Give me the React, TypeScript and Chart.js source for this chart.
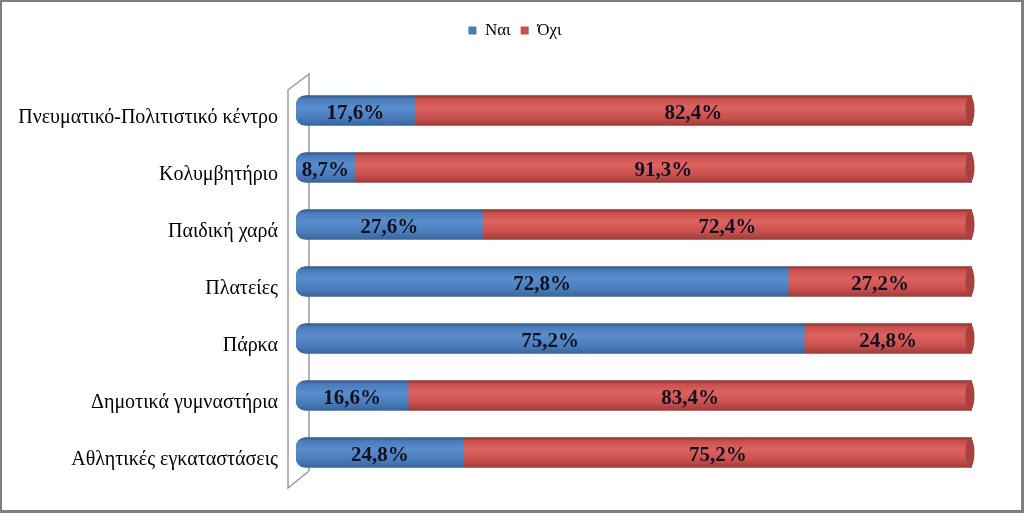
import React, { useEffect, useRef } from "react";
import { Chart, registerables } from "chart.js";

Chart.register(...registerables);

const categories = [
  "Πνευματικό-Πολιτιστικό κέντρο",
  "Κολυμβητήριο",
  "Παιδική χαρά",
  "Πλατείες",
  "Πάρκα",
  "Δημοτικά γυμναστήρια",
  "Αθλητικές εγκαταστάσεις",
];
const yesValues = [17.6, 8.7, 27.6, 72.8, 75.2, 16.6, 24.8];
const noValues = [82.4, 91.3, 72.4, 27.2, 24.8, 83.4, 75.2];
const seriesNames = ["Ναι", "Όχι"];

const BAR_H = 30;
const SERIF = "'Liberation Serif', 'Times New Roman', serif";

function cylinder(base: string[]) {
  return (ctx: any) => {
    const chart = ctx.chart;
    if (!chart.chartArea || ctx.dataIndex === undefined) return base[1];
    const y = chart.scales.y.getPixelForValue(ctx.dataIndex);
    const g = chart.ctx.createLinearGradient(0, y - BAR_H / 2, 0, y + BAR_H / 2);
    g.addColorStop(0, base[0]);
    g.addColorStop(0.12, base[1]);
    g.addColorStop(0.4, base[2]);
    g.addColorStop(0.75, base[1]);
    g.addColorStop(1, base[3]);
    return g;
  };
}

const blueStops = ["#34598a", "#4a7cbb", "#5a8dcc", "#3a659c"];
const redStops = ["#8e3432", "#c9504d", "#dc6360", "#9c3c3a"];

const wallPlugin = {
  id: "wall",
  beforeDatasetsDraw(chart: any) {
    const { ctx, chartArea } = chart;
    const l = chartArea.left;
    const t = chartArea.top;
    const b = chartArea.bottom;
    ctx.save();
    ctx.strokeStyle = "#9a9a9a";
    ctx.lineWidth = 1.5;
    ctx.beginPath();
    ctx.moveTo(l + 13, b - 10);
    ctx.lineTo(l - 8, b + 7);
    ctx.lineTo(l - 8, t + 8);
    ctx.lineTo(l + 13, t - 8);
    ctx.lineTo(l + 13, b - 10);
    ctx.stroke();
    ctx.restore();
  },
};

const capPlugin = {
  id: "caps",
  afterDatasetsDraw(chart: any) {
    const { ctx } = chart;
    const meta = chart.getDatasetMeta(1);
    ctx.save();
    meta.data.forEach((el: any) => {
      const h = el.height;
      ctx.beginPath();
      ctx.ellipse(el.x - 2, el.y, 4.5, h / 2, 0, 0, Math.PI * 2);
      ctx.fillStyle = "#a8413f";
      ctx.fill();
    });
    ctx.restore();
  },
};

const labelPlugin = {
  id: "valueLabels",
  afterDatasetsDraw(chart: any) {
    const { ctx } = chart;
    ctx.save();
    ctx.font = "bold 21px " + SERIF;
    ctx.fillStyle = "#111122";
    ctx.textAlign = "center";
    ctx.textBaseline = "middle";
    chart.data.datasets.forEach((ds: any, di: number) => {
      const meta = chart.getDatasetMeta(di);
      meta.data.forEach((el: any, i: number) => {
        const v = ds.data[i];
        const cx = (el.x + el.base) / 2;
        ctx.fillText(v.toFixed(1).replace(".", ",") + "%", cx, el.y + 3);
      });
    });
    ctx.restore();
  },
};

export default function App() {
  const ref = useRef<HTMLCanvasElement>(null);
  useEffect(() => {
    if (!ref.current) return;
    const chart = new Chart(ref.current, {
      type: "bar",
      data: {
        labels: categories,
        datasets: [
          {
            label: seriesNames[0],
            data: yesValues,
            backgroundColor: cylinder(blueStops),
            borderRadius: { topLeft: 10, bottomLeft: 10, topRight: 0, bottomRight: 0 },
            borderSkipped: false,
            barThickness: BAR_H,
          },
          {
            label: seriesNames[1],
            data: noValues,
            backgroundColor: cylinder(redStops),
            borderRadius: { topLeft: 0, bottomLeft: 0, topRight: 0, bottomRight: 0 },
            borderSkipped: false,
            barThickness: BAR_H,
          },
        ],
      },
      options: {
        indexAxis: "y",
        animation: false,
        responsive: false,
        maintainAspectRatio: false,
        layout: { padding: { left: 6, right: 0, top: 12, bottom: 32 } },
        scales: {
          x: {
            stacked: true,
            min: 0,
            max: 100,
            display: false,
          },
          y: {
            stacked: true,
            grid: { display: false, drawTicks: false },
            border: { display: false },
            ticks: {
              padding: 18,
              labelOffset: 7,
              color: "#000",
              font: { family: SERIF, size: 20 },
            },
            afterFit: (scale: any) => {
              scale.width = 296 - 6;
            },
          },
          ySpacer: {
            type: "linear",
            axis: "y",
            position: "right",
            display: true,
            grid: { display: false, drawTicks: false },
            border: { display: false },
            ticks: { display: false },
            afterFit: (scale: any) => {
              scale.width = 52;
            },
          },
        },
        plugins: {
          legend: {
            position: "top",
            labels: {
              boxWidth: 8,
              boxHeight: 8,
              padding: 10,
              color: "#000",
              font: { family: SERIF, size: 17 },
              generateLabels: (ch: any) =>
                ch.data.datasets.map((ds: any, i: number) => ({
                  text: ds.label,
                  fillStyle: i === 0 ? "#4a7cbb" : "#c9504d",
                  strokeStyle: i === 0 ? "#4a7cbb" : "#c9504d",
                  lineWidth: 0,
                  datasetIndex: i,
                  hidden: false,
                  fontColor: "#000",
                })),
            },
          },
          title: {
            display: true,
            text: " ",
            weight: 500,
            position: "top",
            font: { size: 1, lineHeight: 1 },
            padding: { top: 32, bottom: 0 },
          },
          tooltip: { enabled: false },
        },
      },
      plugins: [wallPlugin, capPlugin, labelPlugin],
    });
    return () => chart.destroy();
  }, []);

  return (
    <div style={{ position: "absolute", left: 0, top: 0, width: 1024, height: 513, background: "#fff" }}>
      <canvas ref={ref} width={1024} height={513} style={{ display: "block" }} />
      <div
        style={{
          position: "absolute",
          left: 0,
          top: 0,
          width: 1024,
          height: 513,
          boxSizing: "border-box",
          borderStyle: "solid",
          borderColor: "#7f7f7f",
          borderWidth: "2px 3px 3px 2px",
          pointerEvents: "none",
        }}
      />
    </div>
  );
}
